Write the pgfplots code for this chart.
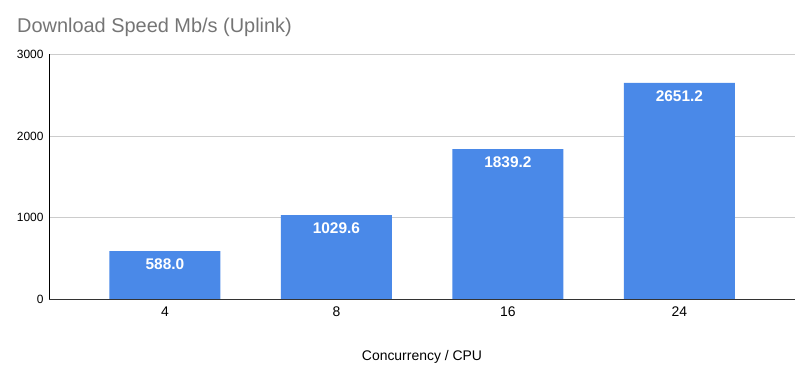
\documentclass[border=0pt]{standalone}
\usepackage{pgfplots}
\pgfplotsset{compat=1.18}
\usepackage{fontspec}
\setmainfont{Liberation Sans}
\definecolor{barblue}{HTML}{4A89E8}
\definecolor{titlegray}{HTML}{757575}
\definecolor{gridgray}{HTML}{CCCCCC}
\begin{document}
\begin{tikzpicture}
\useasboundingbox (0,0) rectangle (812bp,368bp);
\begin{axis}[
  scale only axis,
  width=746bp, height=244.5bp,
  at={(49bp,69bp)}, anchor=south west,
  xmin=-0.676, xmax=3.674, ymin=0, ymax=3000,
  ybar, bar width=111bp,
  xtick={0,1,2,3}, xticklabels={4,8,16,24},
  ytick={0,1000,2000,3000},
  /pgf/number format/assume math mode=true,
  /pgf/number format/1000 sep={},
  axis x line*=bottom, axis y line*=left,
  x axis line style={-,draw=black!80,line width=0.8pt},
  y axis line style={-,draw=black,line width=0.8pt},
  ymajorgrids, grid style={gridgray,line width=0.6pt},
  major tick length=0pt,
  yticklabel style={xshift=-2bp,font=\fontsize{12}{14}\selectfont},
  xticklabel style={yshift=-4bp,font=\fontsize{14}{16}\selectfont},
  nodes near coords={\pgfmathprintnumber[fixed,fixed zerofill,precision=1,1000 sep={}]{\pgfplotspointmeta}},
  every node near coord/.append style={anchor=north, yshift=-4bp, text=white, font=\fontsize{15.5}{18}\selectfont\bfseries},
]
\addplot[fill=barblue, draw=none] coordinates {(0,588.0) (1,1029.6) (2,1839.2) (3,2651.2)};
\end{axis}
\node[anchor=base west, text=titlegray, font=\fontsize{20}{24}\selectfont, inner sep=0pt] at (17bp,335bp) {Download Speed Mb/s (Uplink)};
\node[anchor=base, font=\fontsize{14}{16}\selectfont, inner sep=0pt] at (422bp,7.5bp) {Concurrency / CPU};
\end{tikzpicture}
\end{document}
